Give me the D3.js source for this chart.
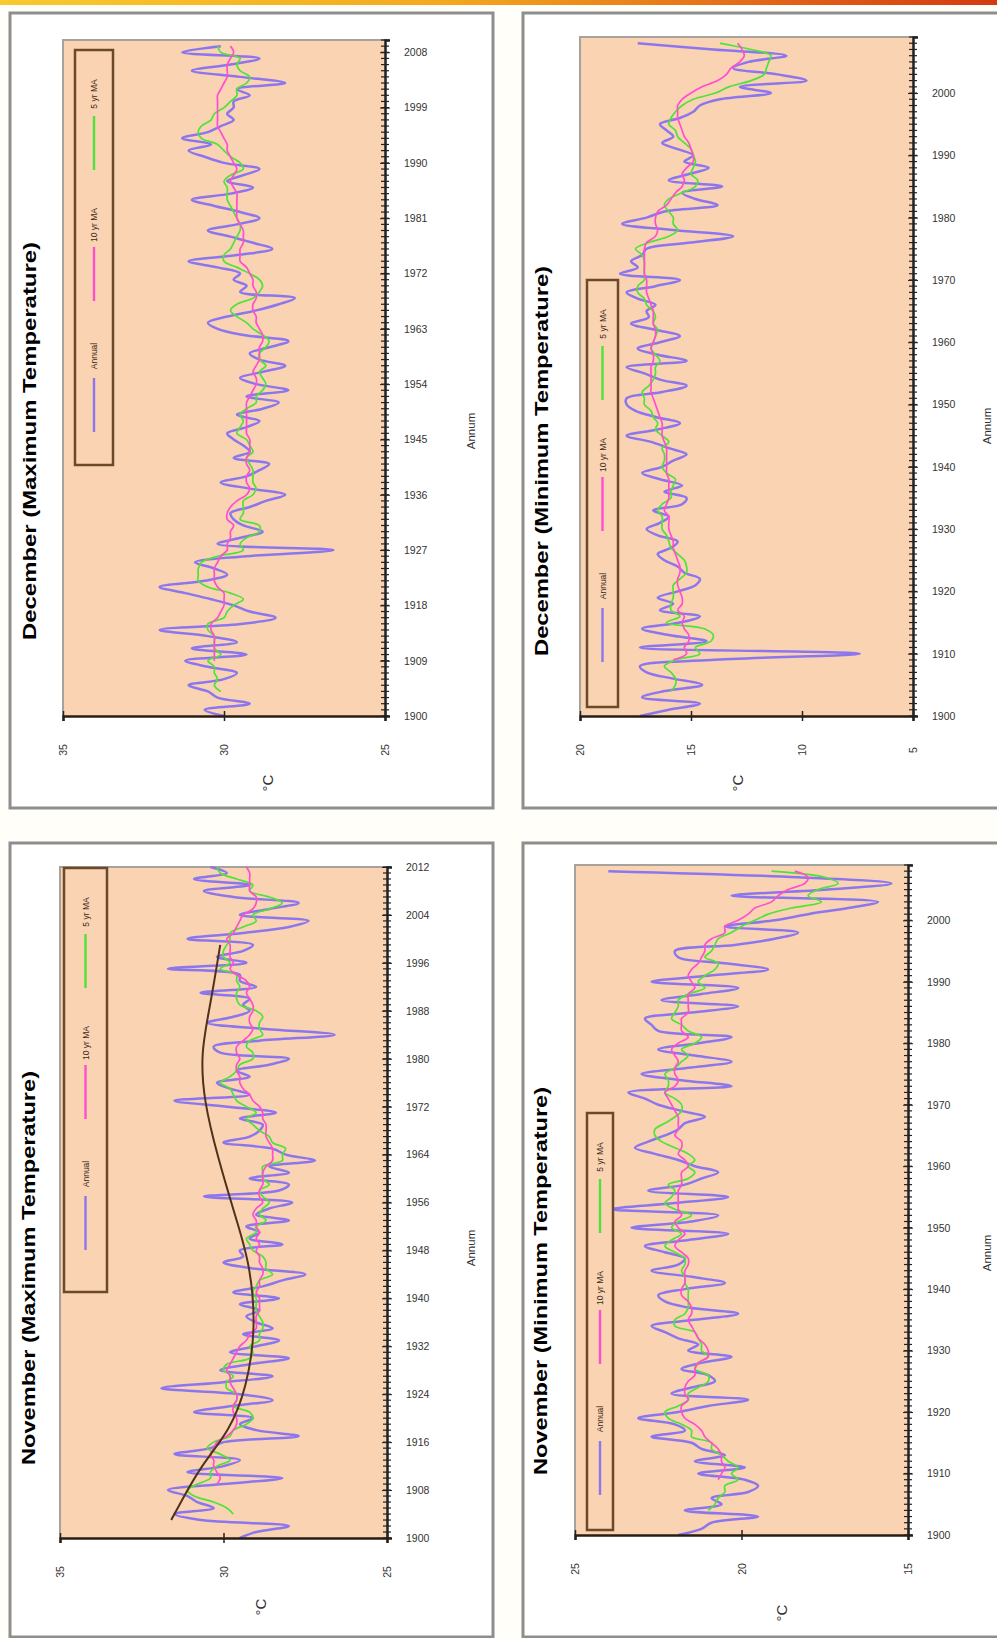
<!DOCTYPE html>
<html>
<head>
<meta charset="utf-8">
<script src="https://cdn.jsdelivr.net/npm/d3@7"></script>
<style>
  body { margin: 0; background: #fffef8; }
  svg text { font-family: "Liberation Sans", Arial, sans-serif; }
</style>
</head>
<body>
<svg id="chart" width="997" height="1638"></svg>
<script>
// ---- December maximum (1900-2009) ----
var decMaxObs = [
  30.0, 30.6, 29.2, 30.2, 30.5, 31.1, 30.0, 29.6, 30.5, 31.2,
  29.3, 31.0, 29.6, 30.5, 32.0, 29.4, 28.4, 29.2, 29.7, 30.4,
  31.2, 32.0, 30.6, 29.9, 30.3, 30.9, 29.3, 26.6, 30.2, 29.5,
  28.8, 29.4, 29.7, 29.8, 29.2, 28.7, 28.1, 29.2, 30.1, 29.3,
  28.9, 28.6, 29.7, 29.2, 29.4, 29.7, 29.9, 29.3, 28.9, 29.6,
  28.8, 28.3, 29.3, 28.0, 29.0, 29.5, 28.8, 28.1, 28.9, 29.2,
  28.6, 28.0, 29.4, 30.2, 30.5, 29.9, 29.0, 28.3, 27.8, 29.5,
  29.3, 29.7, 29.5, 30.2, 31.1, 29.6, 28.5, 29.1, 29.8, 30.5,
  29.6, 28.9, 29.5, 30.3, 31.0, 29.8, 29.1, 29.9, 29.4, 28.9,
  30.0, 30.6, 31.1, 30.4, 31.3, 30.5, 30.1, 29.7, 29.9, 29.7,
  29.7, 29.2, 29.6, 28.1, 29.5, 31.0, 29.8, 28.9, 31.3, 30.1
];
// 5 yr moving average, from 1904
var decMax5 = [
  30.1, 30.3, 30.2, 30.3, 30.3, 30.5,
  30.1, 30.3, 30.3, 30.3, 30.5, 30.5, 30.0, 29.9, 29.7, 29.4,
  29.8, 30.5, 30.8, 30.8, 30.8, 30.7, 30.2, 29.4, 29.5, 29.3,
  28.9, 28.9, 29.5, 29.4, 29.4, 29.4, 29.1, 29.0, 29.1, 29.1,
  29.1, 29.2, 29.3, 29.1, 29.2, 29.3, 29.6, 29.5, 29.4, 29.5,
  29.3, 29.0, 29.0, 28.8, 28.7, 28.8, 28.9, 28.7, 28.9, 28.9,
  28.7, 28.6, 28.8, 29.1, 29.3, 29.6, 29.8, 29.6, 29.1, 28.9,
  28.8, 28.9, 29.2, 29.6, 30.0, 30.0, 29.8, 29.7, 29.6, 29.5,
  29.5, 29.6, 29.7, 29.8, 29.9, 29.9, 29.9, 30.0, 29.8, 29.4,
  29.5, 29.8, 30.0, 30.2, 30.7, 30.8, 30.7, 30.4, 30.3, 30.0,
  29.8, 29.6, 29.6, 29.3, 29.2, 29.5, 29.6, 29.5, 30.1, 30.2
];
// 10 yr moving average, from 1909
var decMax10 = [
  30.3,
  30.3, 30.3, 30.3, 30.3, 30.4, 30.4, 30.2, 30.1, 30.0, 30.0,
  30.0, 30.2, 30.3, 30.3, 30.3, 30.2, 30.1, 29.9, 29.9, 29.8,
  29.8, 29.7, 29.9, 29.9, 29.8, 29.6, 29.3, 29.2, 29.3, 29.3,
  29.2, 29.3, 29.3, 29.2, 29.2, 29.2, 29.3, 29.3, 29.3, 29.3,
  29.3, 29.3, 29.2, 29.1, 29.0, 29.0, 29.1, 29.0, 28.9, 28.9,
  28.9, 28.8, 28.8, 28.9, 29.0, 29.0, 29.1, 29.1, 29.0, 29.0,
  29.1, 29.1, 29.2, 29.3, 29.5, 29.5, 29.5, 29.4, 29.4, 29.4,
  29.5, 29.6, 29.6, 29.6, 29.6, 29.6, 29.7, 29.8, 29.7, 29.6,
  29.7, 29.8, 29.9, 29.9, 30.0, 30.1, 30.2, 30.2, 30.2, 30.2,
  30.2, 30.2, 30.1, 30.0, 29.9, 29.9, 29.9, 29.8, 29.7, 29.8
];
var decMaxYearTicks = [1900, 1909, 1918, 1927, 1936, 1945, 1954, 1963, 1972, 1981, 1990, 1999, 2008];
var decMaxValTicks = [25, 30, 35];

// ---- December minimum (1900-2008) ----
var decMinObs = [
  17.3, 16.0, 14.6, 17.2, 16.2, 14.5, 15.8, 17.0, 17.3, 14.1,
  7.4, 17.3, 14.3, 16.0, 17.2, 15.5, 14.6, 16.4, 15.8, 16.5,
  15.6, 14.8, 14.6, 15.3, 15.6, 16.2, 16.5, 15.9, 15.6, 16.5,
  17.0, 16.4, 16.0, 16.7, 15.4, 15.2, 16.2, 15.4, 16.4, 17.2,
  16.3, 15.8, 15.2, 16.0, 16.8, 17.9, 16.5, 15.5, 16.6, 17.5,
  17.9, 17.9, 16.3, 15.2, 16.4, 17.1, 17.9, 15.2, 16.5, 17.4,
  16.4, 15.5, 16.6, 17.7, 16.9, 17.0, 16.6, 17.4, 17.9, 16.6,
  15.5, 18.2, 17.4, 17.7, 17.2, 17.0, 15.0, 13.1, 15.8, 18.1,
  17.0, 16.2, 13.8, 14.8, 15.4, 13.6, 16.0, 15.1, 14.2, 15.3,
  14.9, 15.6, 16.3, 15.8, 16.1, 16.4, 15.5, 14.9, 14.6, 13.7,
  11.4, 12.8, 9.8, 11.1, 13.1, 12.4, 10.7, 14.0, 17.4
];
var decMin5 = [
  15.9, 15.7, 15.7, 15.9, 16.2, 15.7,
  14.6, 14.8, 14.1, 14.0, 14.4, 16.1, 15.5, 15.9, 15.9, 15.8,
  15.8, 15.8, 15.5, 15.2, 15.2, 15.3, 15.6, 15.9, 16.0, 16.1,
  16.3, 16.3, 16.3, 16.5, 16.3, 15.9, 15.9, 15.8, 15.7, 16.1,
  16.3, 16.2, 16.2, 16.3, 16.0, 16.3, 16.6, 16.5, 16.7, 16.8,
  17.1, 17.1, 17.2, 16.9, 16.7, 16.6, 16.6, 16.4, 16.6, 16.8,
  16.7, 16.6, 16.5, 16.7, 16.6, 16.7, 17.0, 17.1, 17.4, 17.4,
  17.1, 17.1, 17.1, 17.1, 17.2, 17.5, 16.9, 16.0, 15.6, 15.8,
  15.8, 16.0, 16.2, 16.0, 15.4, 14.8, 14.7, 15.0, 14.9, 14.8,
  14.9, 15.0, 15.3, 15.6, 15.7, 16.0, 15.9, 15.7, 15.4, 14.9,
  13.9, 13.3, 12.3, 11.7, 11.6, 11.5, 11.4, 12.3, 13.7
];
var decMin10 = [
  15.8,
  15.2, 15.3, 15.1, 15.1, 15.3, 15.4, 15.3, 15.6, 15.4, 15.4,
  15.5, 15.6, 15.6, 15.5, 15.5, 15.6, 15.7, 15.8, 15.8, 15.9,
  16.0, 16.0, 16.0, 16.2, 16.1, 16.0, 16.0, 16.0, 16.0, 16.1,
  16.1, 16.1, 16.1, 16.1, 16.2, 16.3, 16.3, 16.3, 16.4, 16.5,
  16.6, 16.7, 16.8, 16.8, 16.8, 16.8, 16.8, 16.7, 16.7, 16.8,
  16.7, 16.6, 16.6, 16.7, 16.7, 16.7, 16.8, 16.9, 17.0, 17.0,
  17.0, 17.1, 17.1, 17.1, 17.1, 17.1, 17.0, 16.6, 16.5, 16.6,
  16.6, 16.5, 16.1, 15.9, 15.7, 15.4, 15.3, 15.4, 15.2, 14.9,
  14.9, 15.0, 15.1, 15.3, 15.4, 15.5, 15.6, 15.6, 15.6, 15.4,
  15.0, 14.5, 13.8, 13.4, 13.2, 12.8, 12.6, 12.7, 12.9
];
var decMinYearTicks = [1900, 1910, 1920, 1930, 1940, 1950, 1960, 1970, 1980, 1990, 2000];
var decMinValTicks = [5, 10, 15, 20];

// ---- November maximum (1900-2012) ----
var novMaxObs = [
  29.5, 29.0, 28.0, 30.7, 31.5, 30.3, 30.8, 31.1, 31.7, 30.0,
  28.2, 31.1, 30.0, 29.5, 31.5, 30.4, 30.0, 27.7, 29.0, 29.5,
  29.1, 30.9, 29.8, 28.5, 29.5, 31.9, 30.0, 28.5, 30.1, 29.2,
  28.0, 29.8, 29.0, 28.3, 29.4, 28.5, 29.0, 29.3, 28.9, 29.5,
  28.3, 29.7, 28.8, 28.2, 27.5, 29.1, 30.0, 29.4, 29.5, 28.2,
  29.2, 28.9, 29.3, 28.0, 29.0, 28.6, 27.9, 30.6, 28.3, 28.0,
  29.2, 28.0, 28.6, 27.2, 28.1, 28.5, 30.0, 29.2, 28.9, 28.8,
  29.5, 28.4, 29.9, 31.5, 29.2, 29.8, 30.2, 29.2, 29.6, 28.6,
  28.0, 30.1, 30.3, 28.9, 26.6, 28.8, 30.5, 29.7, 29.2, 29.4,
  29.2, 30.7, 29.0, 29.5, 29.5, 31.7, 29.3, 30.2, 29.4, 29.1,
  31.1, 29.4, 28.0, 27.4, 29.5, 28.6, 27.7, 29.7, 30.6, 29.2,
  30.9, 29.9, 30.4
];
var novMax5 = [
  29.7, 29.9, 30.3, 30.9, 31.1, 30.8,
  30.4, 30.4, 30.2, 29.8, 30.1, 30.5, 30.3, 29.8, 29.7, 29.3,
  29.1, 29.2, 29.7, 29.6, 29.6, 29.9, 29.9, 29.7, 30.0, 29.9,
  29.2, 29.1, 29.2, 28.9, 28.9, 28.8, 28.8, 28.9, 29.0, 29.0,
  29.0, 29.1, 29.0, 28.9, 28.5, 28.7, 28.7, 28.8, 29.1, 29.2,
  29.3, 29.0, 29.0, 28.7, 28.9, 28.8, 28.6, 28.8, 28.9, 28.6,
  28.8, 28.8, 28.8, 28.2, 28.2, 28.1, 28.5, 28.6, 28.9, 29.1,
  29.3, 29.0, 29.3, 29.6, 29.7, 29.8, 30.1, 29.8, 29.6, 29.5,
  29.1, 29.1, 29.3, 29.2, 28.8, 28.9, 28.9, 28.8, 29.0, 29.5,
  29.6, 29.6, 29.5, 29.6, 29.6, 30.1, 29.8, 30.0, 30.0, 29.9,
  29.8, 29.8, 29.4, 29.0, 29.1, 28.6, 28.2, 28.6, 29.2, 29.1,
  29.6, 30.1, 30.2
];
var novMax10 = [
  30.2,
  30.1, 30.2, 30.3, 30.3, 30.4, 30.3, 30.2, 29.9, 29.7, 29.6,
  29.6, 29.7, 29.7, 29.6, 29.6, 29.7, 29.8, 29.8, 29.9, 29.8,
  29.7, 29.6, 29.5, 29.3, 29.2, 29.0, 29.0, 29.0, 28.9, 28.9,
  28.9, 29.0, 28.9, 28.9, 28.8, 28.8, 28.9, 28.9, 29.0, 28.9,
  29.0, 28.9, 29.0, 29.0, 29.1, 29.0, 28.8, 28.9, 28.9, 28.8,
  28.8, 28.8, 28.7, 28.5, 28.5, 28.5, 28.6, 28.7, 28.7, 28.7,
  28.8, 28.8, 28.9, 29.1, 29.2, 29.4, 29.5, 29.5, 29.6, 29.6,
  29.5, 29.6, 29.6, 29.4, 29.2, 29.1, 29.2, 29.2, 29.1, 29.1,
  29.2, 29.3, 29.2, 29.3, 29.6, 29.8, 29.7, 29.8, 29.8, 29.8,
  29.9, 29.7, 29.6, 29.5, 29.4, 29.1, 29.0, 29.0, 29.2, 29.2,
  29.2, 29.2, 29.3
];
// polynomial trend line points
var novMaxPolyYears = [1903, 1906, 1912, 1918, 1925, 1935, 1946, 1953, 1964, 1973, 1981, 1989, 1999];
var novMaxPolyValues = [31.6, 31.3, 30.7, 29.8, 29.3, 29.0, 29.2, 29.6, 30.2, 30.6, 30.7, 30.4, 30.1];
var novMaxYearTicks = [1900, 1908, 1916, 1924, 1932, 1940, 1948, 1956, 1964, 1972, 1980, 1988, 1996, 2004, 2012];
var novMaxValTicks = [25, 30, 35];

// ---- November minimum (1900-2008) ----
var novMinObs = [
  21.9, 21.2, 20.9, 19.5, 21.7, 20.6, 20.9, 19.8, 19.5, 19.9,
  21.3, 19.9, 21.4, 20.5, 21.2, 21.5, 22.7, 21.7, 22.0, 23.1,
  21.9, 21.0, 19.8, 22.1, 21.5, 20.8, 21.0, 21.8, 21.2, 20.3,
  21.6, 21.3, 21.9, 22.3, 22.7, 21.4, 20.1, 21.6, 22.3, 22.5,
  21.7, 20.5, 21.5, 22.7, 21.9, 21.7, 22.3, 22.9, 21.6, 20.4,
  23.3, 21.5, 20.7, 23.9, 22.0, 20.4, 22.8, 21.7, 21.2, 20.7,
  21.4, 21.9, 22.6, 23.2, 22.8, 22.3, 21.9, 21.7, 21.1, 21.8,
  22.5, 22.9, 23.4, 20.3, 21.8, 23.0, 21.6, 20.3, 21.4, 22.5,
  21.3, 20.3, 22.5, 22.7, 22.9, 21.5, 20.1, 22.4, 21.2, 20.1,
  22.7, 21.0, 19.2, 20.5, 21.9, 22.0, 20.2, 19.0, 18.3, 20.5,
  19.0, 18.0, 16.8, 15.9, 20.3, 17.4, 15.5, 18.3, 24.0
];
var novMin5 = [
  21.0, 20.8, 20.7, 20.5, 20.5, 20.1,
  20.3, 20.1, 20.4, 20.6, 20.9, 20.9, 21.5, 21.5, 21.8, 22.2,
  22.3, 21.9, 21.6, 21.6, 21.3, 21.0, 21.0, 21.4, 21.3, 21.0,
  21.2, 21.2, 21.3, 21.4, 22.0, 22.0, 21.7, 21.6, 21.6, 21.6,
  21.6, 21.7, 21.7, 21.8, 21.7, 21.7, 22.0, 22.3, 22.1, 21.8,
  22.1, 21.9, 21.5, 22.0, 22.3, 22.1, 22.0, 22.2, 21.6, 21.4,
  21.6, 21.4, 21.6, 22.0, 22.4, 22.6, 22.6, 22.3, 22.0, 21.8,
  21.8, 22.0, 22.3, 22.2, 22.2, 22.3, 22.0, 21.8, 21.6, 21.8,
  21.4, 21.2, 21.6, 21.8, 22.1, 22.0, 21.9, 21.9, 21.6, 21.1,
  21.3, 21.1, 20.8, 20.7, 21.1, 20.9, 20.8, 20.7, 20.3, 20.0,
  19.6, 19.2, 18.5, 17.6, 18.0, 17.7, 17.1, 17.5, 19.1
];
var novMin10 = [
  20.7,
  20.6, 20.5, 20.6, 20.6, 20.7, 20.9, 21.1, 21.2, 21.4, 21.7,
  21.8, 21.8, 21.6, 21.7, 21.7, 21.6, 21.4, 21.4, 21.3, 21.0,
  21.0, 21.1, 21.3, 21.4, 21.5, 21.6, 21.5, 21.5, 21.6, 21.8,
  21.8, 21.7, 21.7, 21.7, 21.6, 21.6, 21.8, 22.0, 21.9, 21.7,
  21.9, 22.0, 21.8, 21.9, 21.9, 21.9, 21.9, 21.8, 21.8, 21.8,
  21.6, 21.7, 21.9, 21.8, 21.8, 22.0, 21.9, 21.9, 21.9, 22.0,
  22.1, 22.2, 22.3, 22.0, 21.9, 22.0, 22.0, 21.9, 22.0, 22.1,
  21.9, 21.6, 21.8, 21.8, 21.8, 21.6, 21.6, 21.6, 21.6, 21.4,
  21.5, 21.6, 21.5, 21.3, 21.2, 21.1, 21.1, 20.9, 20.5, 20.5,
  20.1, 19.8, 19.6, 19.1, 18.9, 18.6, 18.1, 18.0, 18.4
];
var novMinYearTicks = [1900, 1910, 1920, 1930, 1940, 1950, 1960, 1970, 1980, 1990, 2000];
var novMinValTicks = [15, 20, 25];

var legendNames = ["Annual", "10 yr MA", "5 yr MA"];

var purple = "#8c76ee", pink = "#ff4fcf", green = "#4fe23a";
var peach = "#fad3b3";

var panels = [
  { title: "December (Maximum Temperature)", frame: [10, 13, 483, 795],
    plot: { left: 63, right: 385, top: 40, bottom: 716 }, years: [1900, 2010], vals: [35, 25],
    yearTicks: decMaxYearTicks, valTicks: decMaxValTicks,
    obs: decMaxObs, ma5: decMax5, ma10: decMax10,
    titlePos: [30, 441], titleLen: 398, annumPos: [471, 431], unitPos: [267, 783],
    legend: { x: 75, y: 50, w: 38, h: 415 } },
  { title: "December (Minimum Temperature)", frame: [523, 13, 480, 795],
    plot: { left: 580, right: 913, top: 37, bottom: 716 }, years: [1900, 2009], vals: [20, 5],
    yearTicks: decMinYearTicks, valTicks: decMinValTicks,
    obs: decMinObs, ma5: decMin5, ma10: decMin10,
    titlePos: [542, 461], titleLen: 390, annumPos: [987, 426], unitPos: [737, 783],
    legend: { x: 587, y: 280, w: 31, h: 427 } },
  { title: "November (Maximum Temperature)", frame: [10, 843, 483, 794],
    plot: { left: 60, right: 387, top: 867, bottom: 1538 }, years: [1900, 2012], vals: [35, 25],
    yearTicks: novMaxYearTicks, valTicks: novMaxValTicks,
    obs: novMaxObs, ma5: novMax5, ma10: novMax10,
    poly: { years: novMaxPolyYears, values: novMaxPolyValues },
    titlePos: [29, 1268], titleLen: 394, annumPos: [471, 1248], unitPos: [260, 1607],
    legend: { x: 64, y: 868, w: 43, h: 424 } },
  { title: "November (Minimum Temperature)", frame: [523, 843, 480, 794],
    plot: { left: 575, right: 908, top: 865, bottom: 1535 }, years: [1900, 2009], vals: [25, 15],
    yearTicks: novMinYearTicks, valTicks: novMinValTicks,
    obs: novMinObs, ma5: novMin5, ma10: novMin10,
    titlePos: [541, 1281], titleLen: 388, annumPos: [987, 1253], unitPos: [781, 1613],
    legend: { x: 587, y: 1113, w: 26, h: 417 } }
];

var svg = d3.select("#chart");

// header strip
var grad = svg.append("defs").append("linearGradient").attr("id", "hdr");
grad.selectAll("stop")
  .data([{ o: "0%", c: "#f9c92e" }, { o: "45%", c: "#f4a81e" }, { o: "80%", c: "#e06018" }, { o: "100%", c: "#d33a10" }])
  .enter().append("stop")
  .attr("offset", function(d) { return d.o; })
  .attr("stop-color", function(d) { return d.c; });
svg.append("rect").attr("x", 0).attr("y", 0).attr("width", 997).attr("height", 5).attr("fill", "url(#hdr)");

panels.forEach(drawPanel);

function drawPanel(p) {
  var g = svg.append("g");
  var pl = p.plot;

  g.append("rect")
    .attr("x", p.frame[0]).attr("y", p.frame[1])
    .attr("width", p.frame[2]).attr("height", p.frame[3])
    .attr("fill", "#ffffff").attr("stroke", "#8e8e8e").attr("stroke-width", 3);

  var x = d3.scaleLinear().domain(p.vals).range([pl.left, pl.right]);
  var y = d3.scaleLinear().domain(p.years).range([pl.bottom, pl.top]);

  // plot area
  g.append("rect")
    .attr("x", pl.left).attr("y", pl.top)
    .attr("width", pl.right - pl.left).attr("height", pl.bottom - pl.top)
    .attr("fill", peach);
  g.append("path")
    .attr("d", "M" + pl.left + "," + pl.bottom + "V" + pl.top + "H" + pl.right)
    .attr("fill", "none").attr("stroke", "#a8a29c").attr("stroke-width", 2);

  // title
  g.append("text")
    .attr("transform", "translate(" + p.titlePos[0] + "," + p.titlePos[1] + ") rotate(-90)")
    .attr("text-anchor", "middle").attr("dominant-baseline", "central")
    .attr("font-size", 18).attr("font-weight", "bold")
    .attr("textLength", p.titleLen).attr("lengthAdjust", "spacingAndGlyphs")
    .text(p.title);

  // series
  var line = d3.line()
    .x(function(d) { return x(d.v); })
    .y(function(d) { return y(d.yr); })
    .curve(d3.curveCatmullRom.alpha(0.5));

  function pts(start, values) {
    return values.map(function(v, i) { return { yr: start + i, v: v }; });
  }

  var series = [
    { data: pts(p.years[0], p.obs), color: purple, w: 2.5 },
    { data: pts(p.years[0] + 4, p.ma5), color: green, w: 1.7 },
    { data: pts(p.years[0] + 9, p.ma10), color: pink, w: 1.7 }
  ];
  series.forEach(function(s) {
    g.append("path").datum(s.data)
      .attr("d", line)
      .attr("fill", "none").attr("stroke", s.color).attr("stroke-width", s.w)
      .attr("stroke-linejoin", "round");
  });

  if (p.poly) {
    var polyPts = p.poly.years.map(function(yr, i) { return { yr: yr, v: p.poly.values[i] }; });
    g.append("path").datum(polyPts)
      .attr("d", line.curve(d3.curveBasis))
      .attr("fill", "none").attr("stroke", "#4e3219").attr("stroke-width", 2);
  }

  // year axis (right side)
  var ya = g.append("g")
    .attr("transform", "translate(" + pl.right + ",0)")
    .call(d3.axisRight(y).tickValues(p.yearTicks).tickSize(5).tickPadding(14).tickFormat(d3.format("d")));
  ya.attr("font-family", null).attr("font-size", 10.5);
  ya.select(".domain").attr("stroke", "#222").attr("stroke-width", 2.5);
  ya.selectAll(".tick line").attr("x1", -5).attr("stroke", "#222");
  ya.selectAll(".tick text").attr("fill", "#333");
  ya.selectAll("line.minor")
    .data(d3.range(p.years[0], p.years[1] + 1))
    .enter().append("line")
    .attr("class", "minor")
    .attr("x1", -4).attr("x2", 4)
    .attr("y1", function(d) { return y(d); }).attr("y2", function(d) { return y(d); })
    .attr("stroke", "#222").attr("stroke-width", 1.2);

  // value axis (bottom)
  var xa = g.append("g")
    .attr("transform", "translate(0," + pl.bottom + ")")
    .call(d3.axisBottom(x).tickValues(p.valTicks).tickSize(5).tickFormat(""));
  xa.select(".domain").attr("stroke", "#2a1e12").attr("stroke-width", 2.5);
  xa.selectAll(".tick line").attr("y1", -5).attr("stroke", "#222").attr("stroke-width", 1.5);
  g.selectAll("text.vlab")
    .data(p.valTicks)
    .enter().append("text")
    .attr("class", "vlab")
    .attr("transform", function(d) { return "translate(" + x(d) + "," + (pl.bottom + 34) + ") rotate(-90)"; })
    .attr("text-anchor", "middle").attr("dominant-baseline", "central")
    .attr("font-size", 10.5).attr("fill", "#333")
    .text(function(d) { return d; });

  // axis titles
  g.append("text")
    .attr("transform", "translate(" + p.annumPos[0] + "," + p.annumPos[1] + ") rotate(-90)")
    .attr("text-anchor", "middle").attr("dominant-baseline", "central")
    .attr("font-size", 11.5).attr("fill", "#333")
    .text("Annum");
  g.append("text")
    .attr("transform", "translate(" + p.unitPos[0] + "," + p.unitPos[1] + ") rotate(-90)")
    .attr("text-anchor", "middle").attr("dominant-baseline", "central")
    .attr("font-size", 15).attr("fill", "#333")
    .text("°C");

  // legend
  var lg = p.legend;
  g.append("rect")
    .attr("x", lg.x).attr("y", lg.y).attr("width", lg.w).attr("height", lg.h)
    .attr("fill", peach).attr("stroke", "#6b4a2b").attr("stroke-width", 2.5);
  var cx = lg.x + lg.w / 2;
  var entries = [
    { name: legendNames[2], color: green },
    { name: legendNames[1], color: pink },
    { name: legendNames[0], color: purple }
  ];
  entries.forEach(function(e, i) {
    var top = lg.y + 26 + i * 131;
    g.append("text")
      .attr("transform", "translate(" + cx + "," + (top + 18) + ") rotate(-90)")
      .attr("text-anchor", "middle").attr("dominant-baseline", "central")
      .attr("font-size", 8.5).attr("fill", "#3a2a1a")
      .text(e.name);
    g.append("line")
      .attr("x1", cx).attr("x2", cx)
      .attr("y1", top + 40).attr("y2", top + 94)
      .attr("stroke", e.color).attr("stroke-width", 2.4);
  });
}
</script>
</body>
</html>
